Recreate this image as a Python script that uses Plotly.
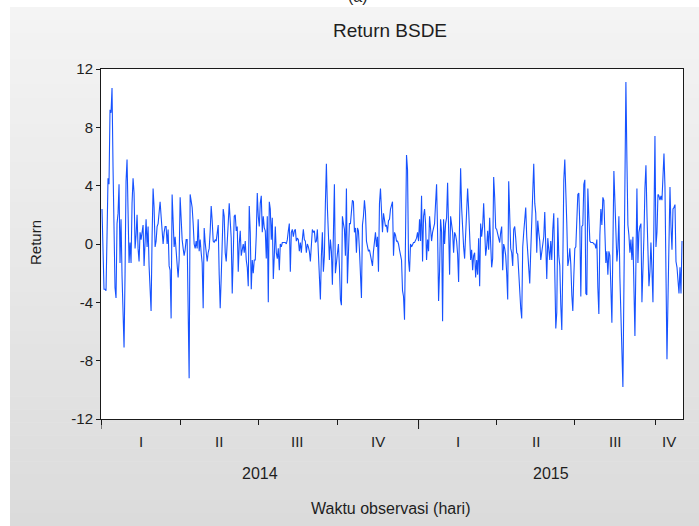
import plotly.graph_objects as go

returns_part1 = [
    2.4, 0.0, -3.1, -3.1, -3.2, 0.5, 4.5, 4.1, 9.2, 9.0, 10.7, 5.3, -1.1, -3.0, -3.7, 1.4,
    2.1, 4.1, -1.3, 1.7, -2.2, -4.7, -7.1, -2.1, 4.3, 5.8, 2.1, -1.3, 0.1, -1.3, 2.8, 4.5,
    3.5, -0.3, 0.6, 2.0, -0.3, -1.2, 0.8, 0.3, 0.8, 1.3, -1.5, 0.4, 1.7, -0.2, 1.2, -1.5,
    -3.2, -4.6, 0.5, 3.8, 2.5, -0.2, 0.2, 1.2, 1.4, 2.2, 2.9, 1.9, 1.1, 0.0, 0.8, 1.2,
    1.2, 0.0, 1.0, -1.5, -1.8, -5.1, 3.4, 1.8, -0.2, 0.5, -0.2, -1.4, -2.3, -1.1, 3.2, 1.6,
    0.3, -0.3, -0.8, -0.4, 0.3, 0.3, -4.3, -9.2, 3.4, 3.0, 2.5, 1.4, 0.0, -0.3, 0.2, -0.3,
]
returns_part2 = [
    1.7, -0.5, 0.3, -0.6, -1.3, -4.4, 1.1, 0.1, -0.5, -1.2, -0.6, -0.3, 0.9, 2.6, 1.6, 0.2,
    0.1, 0.3, 0.2, 0.9, 1.3, -2.1, -4.4, -2.3, 1.1, 2.4, 1.9, -0.6, -1.2, -0.2, 1.4, 2.8,
    1.3, 0.4, -3.4, -0.3, 1.9, 2.0, 0.9, 1.2, -1.9, 0.0, 0.9, -0.8, -0.4, 0.0, -0.6, 0.2,
    -1.1, -1.6, -2.9, 2.6, 0.8, -3.1, -1.1, -2.0, -1.1, -1.1, 0.6, 3.5, 1.9, 1.2, 2.8, 3.3,
    0.8, 1.9, 1.1, 0.9, -1.0, 1.9, -4.0, 2.9, 2.4, 0.3, 1.8, -2.4, -0.8, 1.2, -0.6, -1.0,
    -0.3, -1.8, 0.0, -0.2, 0.1, 0.1, 0.1, 0.1, 0.0, 0.3, 0.9, 1.4, -1.9, 0.8, 1.0, 0.5,
    0.9,
]
returns_part3 = [
    1.0, 0.2, 0.4, 0.3, -0.5, 0.1, -0.6, 0.3, 1.0, 0.3, 0.2, -0.6, 0.0, -0.2, -0.5, -1.2,
    0.2, 1.0, 0.8, 0.9, 0.1, 0.2, 1.0, -0.6, -2.1, -3.8, -0.8, 0.8, -1.9, -0.8, 2.8, 5.5,
    2.5, 0.2, -1.1, 0.3, -0.5, -2.8, 2.6, 4.1, -2.0, -1.2, -0.7, 0.0, -1.5, -3.8, -4.2, 1.9,
    1.4, 1.0, -0.8, 3.8, -2.7, 0.5, 1.4, 1.4, 2.1, 3.0, 2.9, 0.8, 1.1, -0.6, 1.1, 0.9,
    -0.4, -2.3, -3.7, 1.3, 1.9, 3.0, 2.2, 0.2, -0.2, -0.5, -0.4, -0.7, -1.1, -1.5, -0.5, 0.5,
    0.8, -0.2, 0.5, -1.9, 2.8, 3.8, 1.9, 0.8, 2.1, 1.7, 1.2, 1.3, 0.8, 1.6, 1.7, 2.4,
    2.8,
]
returns_part4 = [
    2.9, -0.8, 0.8, 0.6, 0.2, 0.2, 0.0, -0.4, -0.8, -1.1, -3.2, -3.6, -5.2, 2.0, 6.1, 5.1,
    -1.1, -1.9, 0.0, -0.2, 0.0, 0.1, 0.1, 0.3, 0.4, 0.8, 0.2, 1.7, 0.2, 3.3, -1.2, 1.9,
    2.4, 1.4, -1.1, 0.3, -0.5, 1.9, 0.6, 0.2, 0.8, 1.2, 1.4, 2.8, 4.1, 0.8, -3.9, -1.8,
    1.7, 0.8, -5.3, 1.7, 0.0, 1.4, 1.8, 4.2, 0.9, -2.1, 1.9, 1.4, 0.8, -0.6, 0.8, 0.6,
    0.2, -0.7, -2.6, 1.7, 5.2, 2.5, 0.6, -0.2, -1.0, 0.5, 2.8, 3.8, 2.4, 0.0, -1.1, -0.4,
    -1.8, -0.8, -0.6, -2.3, -1.1, -2.1, 0.4, -2.9, 1.4, 0.5, 1.2, 2.8, 0.8, -0.8, -0.2, 0.9,
    -0.4,
]
returns_part5 = [
    1.8, 0.0, -1.6, -1.0, 4.6, 3.2, 1.1, 1.0, 0.6, 0.3, 0.1, 0.8, 1.2, -1.8, 0.0, -0.3,
    -0.8, -2.0, -3.8, 4.3, 1.9, -0.3, -0.6, -1.5, 1.0, 1.2, 0.4, -0.6, -0.7, -2.2, -3.6, -4.4,
    -5.1, -0.2, 0.8, 1.9, 2.5, 0.5, -0.8, -2.3, -2.7, -0.5, 1.7, 2.9, 5.5, 2.8, 2.1, -0.6,
    1.6, 0.8, 0.2, -1.1, -0.4, 0.2, 0.5, 2.2, -1.1, -2.4, 0.4, -0.3, -1.1, 0.2, -1.1, 1.0,
    2.1, -1.9, -5.8, -4.7, 1.8, -0.8, -1.5, -4.2, -5.9, -1.5, 4.4, 5.8, 3.9, 1.4, -1.5, -1.1,
    -0.3, -1.4, -3.5, -4.6, -2.2, -0.3, -0.2, 1.3, 3.4, 3.5, 1.2, -3.6, 1.2, 1.3, 4.1, 4.4,
    -3.4,
]
returns_part6 = [
    -3.5, 3.8, 1.9, 0.2, 0.1, 0.1, 0.1, 0.0, 0.0, -0.3, 0.3, -3.0, -4.8, 0.6, 2.4, 1.3,
    3.2, 3.0, 0.9, -1.3, -0.5, -2.1, -0.5, -0.8, -3.0, -5.4, -0.3, 5.0, 3.0, 0.8, -1.2, -0.3,
    1.9, -2.3, -4.3, -7.7, -9.8, -3.1, 3.3, 11.1, 5.8, 1.3, 0.6, -0.6, 0.3, -1.1, 0.5, -4.7,
    -6.3, -1.3, 3.8, -1.3, 0.8, 1.2, 1.4, -4.0, -2.0, 0.5, 3.8, 5.4, 2.1, -0.7, -2.9, -1.9,
    0.1, -1.8, -4.0, 1.7, 7.4, -0.2, 0.8, 3.4, 3.3, 3.0, 3.3, 3.0, 4.9, 6.2, 3.9, -3.1,
    -7.9, -3.8, 0.1, 3.9, 1.2, -0.4, 2.4, 2.5, 2.7, -1.2, -1.6, -2.9, -3.4, -1.6, -3.4, 0.2,
]

# axis scale / labels
quarter_start_obs = [0, 79, 157, 236, 317, 395, 473, 554]
quarter_labels = ["I", "II", "III", "IV", "I", "II", "III", "IV"]
year_start_obs = [0, 317]
year_labels = ["2014", "2015"]
y_ticks = [-12, -8, -4, 0, 4, 8, 12]

returns = (returns_part1 + returns_part2 + returns_part3
           + returns_part4 + returns_part5 + returns_part6)
obs = list(range(1, len(returns) + 1))
x_end = len(returns) + 1

# ---- layout geometry (pixels) ----
W, H = 699, 526
L, R, T, B = 101, 16, 69, 107
PW, PH = W - L - R, H - T - B

def xp(px):
    return (px - L) / PW

def yp(py):
    return (H - B - py) / PH

FONT = "Liberation Sans, Arial, sans-serif"
TXT = "#1e1e1e"

fig = go.Figure()
fig.add_trace(go.Scatter(
    x=obs, y=returns, mode="lines",
    line=dict(color="#1652ff", width=1.1),
    hoverinfo="skip", showlegend=False,
))

shapes = []
# grey gradient panel
top_px, bot_px, left_px = 7, 526, 10
nb = 40
c0, c1 = 244, 219
for k in range(nb):
    a = top_px + (bot_px - top_px) * k / nb
    b = top_px + (bot_px - top_px) * (k + 1) / nb
    c = round(c0 + (c1 - c0) * (k + 0.5) / nb)
    shapes.append(dict(type="rect", xref="paper", yref="paper", layer="below",
                       x0=xp(left_px), x1=xp(W + 2), y0=yp(b + 0.6), y1=yp(a),
                       fillcolor=f"rgb({c},{c},{c})", line=dict(width=0)))
# white plot area
shapes.append(dict(type="rect", xref="paper", yref="paper", layer="below",
                   x0=0, x1=1, y0=0, y1=1, fillcolor="white", line=dict(width=0)))
# long ticks at year starts
for ys in year_start_obs:
    shapes.append(dict(type="line", xref="x", yref="paper", x0=ys, x1=ys,
                       y0=0, y1=yp(H - B + 10), line=dict(color="#1a1a1a", width=1)))

ann = []
ann.append(dict(text="(a)", x=xp(358), y=yp(-3), xref="paper", yref="paper",
                showarrow=False, xanchor="center", yanchor="middle",
                font=dict(family=FONT, size=16, color=TXT)))
ann.append(dict(text="Return BSDE", x=xp(390), y=yp(30), xref="paper", yref="paper",
                showarrow=False, xanchor="center", yanchor="middle",
                font=dict(family=FONT, size=19, color=TXT)))
ann.append(dict(text="Return", x=xp(35), y=yp(243), xref="paper", yref="paper",
                showarrow=False, xanchor="center", yanchor="middle", textangle=-90,
                font=dict(family=FONT, size=15, color=TXT)))
ann.append(dict(text="Waktu observasi (hari)", x=xp(390), y=yp(508), xref="paper",
                yref="paper", showarrow=False, xanchor="center", yanchor="middle",
                font=dict(family=FONT, size=16, color=TXT)))
q_bounds = quarter_start_obs + [x_end]
for i, lab in enumerate(quarter_labels):
    ann.append(dict(text=lab, x=(q_bounds[i] + q_bounds[i + 1]) / 2, y=yp(442),
                    xref="x", yref="paper", showarrow=False, xanchor="center",
                    yanchor="middle", font=dict(family=FONT, size=15, color=TXT)))
y_bounds = year_start_obs + [x_end]
for i, lab in enumerate(year_labels):
    ann.append(dict(text=lab, x=(y_bounds[i] + y_bounds[i + 1]) / 2, y=yp(473),
                    xref="x", yref="paper", showarrow=False, xanchor="center",
                    yanchor="middle", font=dict(family=FONT, size=16, color=TXT)))

fig.update_layout(
    width=W, height=H,
    margin=dict(l=L, r=R, t=T, b=B, pad=0),
    paper_bgcolor="white", plot_bgcolor="white",
    shapes=shapes, annotations=ann, showlegend=False,
    xaxis=dict(range=[0, x_end], tickmode="array", tickvals=quarter_start_obs,
               ticktext=[""] * len(quarter_start_obs), ticks="outside", ticklen=5,
               tickwidth=1, tickcolor="#1a1a1a", showline=True, mirror=True,
               linecolor="#1a1a1a", linewidth=1, showgrid=False, zeroline=False,
               fixedrange=True),
    yaxis=dict(range=[-12, 12], tickmode="array", tickvals=y_ticks,
               ticktext=[str(v) for v in y_ticks], ticks="outside", ticklen=4,
               tickwidth=1, tickcolor="#1a1a1a", showline=True, mirror=True,
               linecolor="#1a1a1a", linewidth=1, showgrid=False, zeroline=False,
               tickfont=dict(family=FONT, size=15, color=TXT), fixedrange=True),
)

fig.write_html("out.html")
